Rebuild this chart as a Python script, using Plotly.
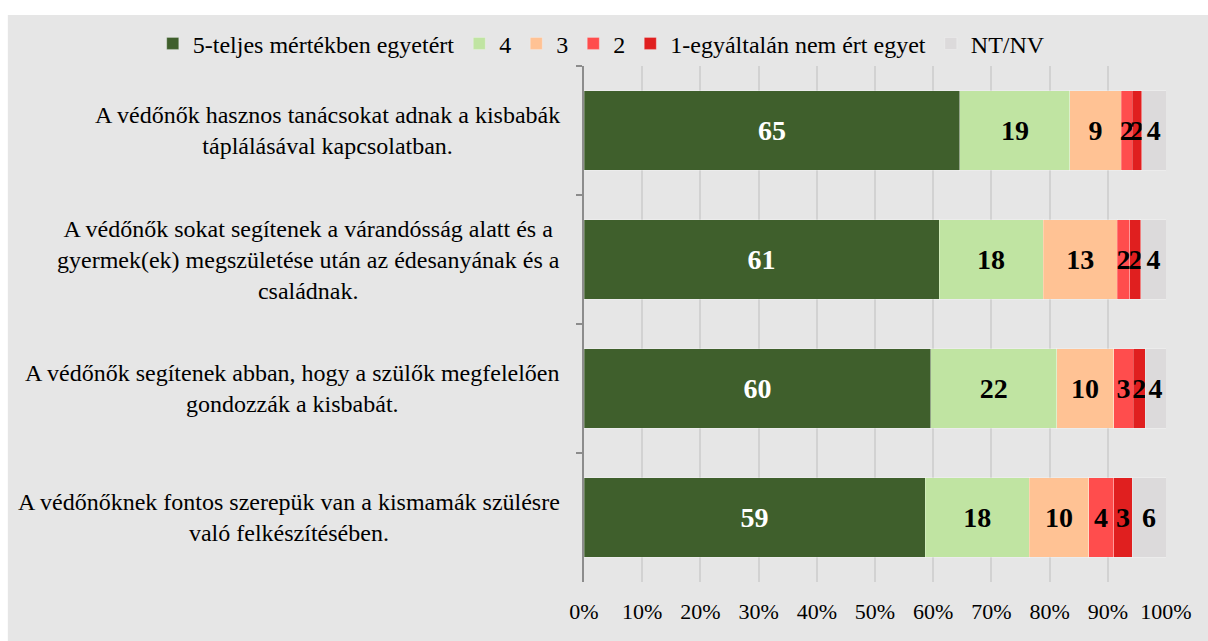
import plotly.graph_objects as go

statements = [
    "A védőnők hasznos tanácsokat adnak a kisbabák<br>táplálásával kapcsolatban.",
    "A védőnők sokat segítenek a várandósság alatt és a<br>gyermek(ek) megszületése után az édesanyának és a<br>családnak.",
    "A védőnők segítenek abban, hogy a szülők megfelelően<br>gondozzák a kisbabát.",
    "A védőnőknek fontos szerepük van a kismamák szülésre<br>való felkészítésében.",
]
series_names = ["5-teljes mértékben egyetért", "4", "3", "2", "1-egyáltalán nem ért egyet", "NT/NV"]

# share of answers (%), per statement, top to bottom
val_5 = [64.6, 61.0, 59.6, 58.6]
val_4 = [18.9, 17.9, 21.6, 17.9]
val_3 = [8.8, 12.7, 9.8, 10.2]
val_2 = [1.9, 2.2, 3.4, 4.3]
val_1 = [1.6, 1.9, 2.0, 3.2]
val_na = [4.2, 4.3, 3.6, 5.8]

x_ticks = [0, 10, 20, 30, 40, 50, 60, 70, 80, 90, 100]
x_tick_labels = ["0%", "10%", "20%", "30%", "40%", "50%", "60%", "70%", "80%", "90%", "100%"]

SERIF = "Liberation Serif"
BG = "#e6e6e6"
colors = ["#3f5f2c", "#c0e4a2", "#ffc294", "#ff4d4d", "#e01f1f", "#dcdadb"]
text_colors = ["white", "black", "black", "black", "black", "black"]

fig = go.Figure()
for name, vals, col, tcol in zip(series_names, [val_5, val_4, val_3, val_2, val_1, val_na], colors, text_colors):
    fig.add_trace(
        go.Bar(
            name=name,
            y=statements,
            x=vals,
            orientation="h",
            marker=dict(color=col, line=dict(width=1, color="rgba(255,255,255,0.25)")),
            texttemplate="%{x:.0f}",
            textposition="inside",
            insidetextanchor="middle",
            textangle=0,
            textfont=dict(family=SERIF, size=28, color=tcol, weight="bold"),
            hoverinfo="skip",
        )
    )

# category labels: centred lines, right-aligned block
for s in statements:
    fig.add_annotation(
        x=-0.038, xref="paper", xanchor="right",
        y=s, yref="y",
        text=s, align="center", showarrow=False,
        font=dict(family=SERIF, size=24, color="black"),
    )

# grey chart area (white strip above it, as in the source picture)
fig.add_shape(
    type="rect", xref="paper", yref="paper",
    x0=-0.99, x1=1.1, y0=-0.2, y1=1.099,
    fillcolor=BG, line=dict(width=0), layer="below",
)

fig.update_layout(
    barmode="stack",
    bargap=0.38,
    width=1208,
    height=641,
    margin=dict(l=584, r=42, t=66, b=59, autoexpand=False),
    paper_bgcolor="white",
    plot_bgcolor=BG,
    font=dict(family=SERIF, color="black"),
    uniformtext=dict(mode="show", minsize=28),
    legend=dict(
        orientation="h",
        x=-0.741, xanchor="left",
        y=1.043, yanchor="middle",
        font=dict(family=SERIF, size=24, color="black"),
        bgcolor="rgba(0,0,0,0)",
        itemwidth=30,
        tracegroupgap=0,
        traceorder="normal",
    ),
    xaxis=dict(
        range=[0, 100],
        tickvals=x_ticks,
        ticktext=x_tick_labels,
        showgrid=True,
        gridcolor="#d2d2d2",
        gridwidth=2,
        zeroline=False,
        showline=False,
        ticks="",
        ticklabelstandoff=14,
        tickfont=dict(family=SERIF, size=22, color="black"),
        fixedrange=True,
    ),
    yaxis=dict(
        autorange="reversed",
        showticklabels=False,
        showline=True,
        linecolor="#8c8c8c",
        linewidth=2,
        ticks="outside",
        tickson="boundaries",
        ticklen=6,
        tickcolor="#8c8c8c",
        tickwidth=2,
        showgrid=False,
        fixedrange=True,
    ),
    showlegend=True,
)

fig.write_html(
    "out.html",
    config={"displayModeBar": False},
    post_script="document.body.style.margin='0';",
)
